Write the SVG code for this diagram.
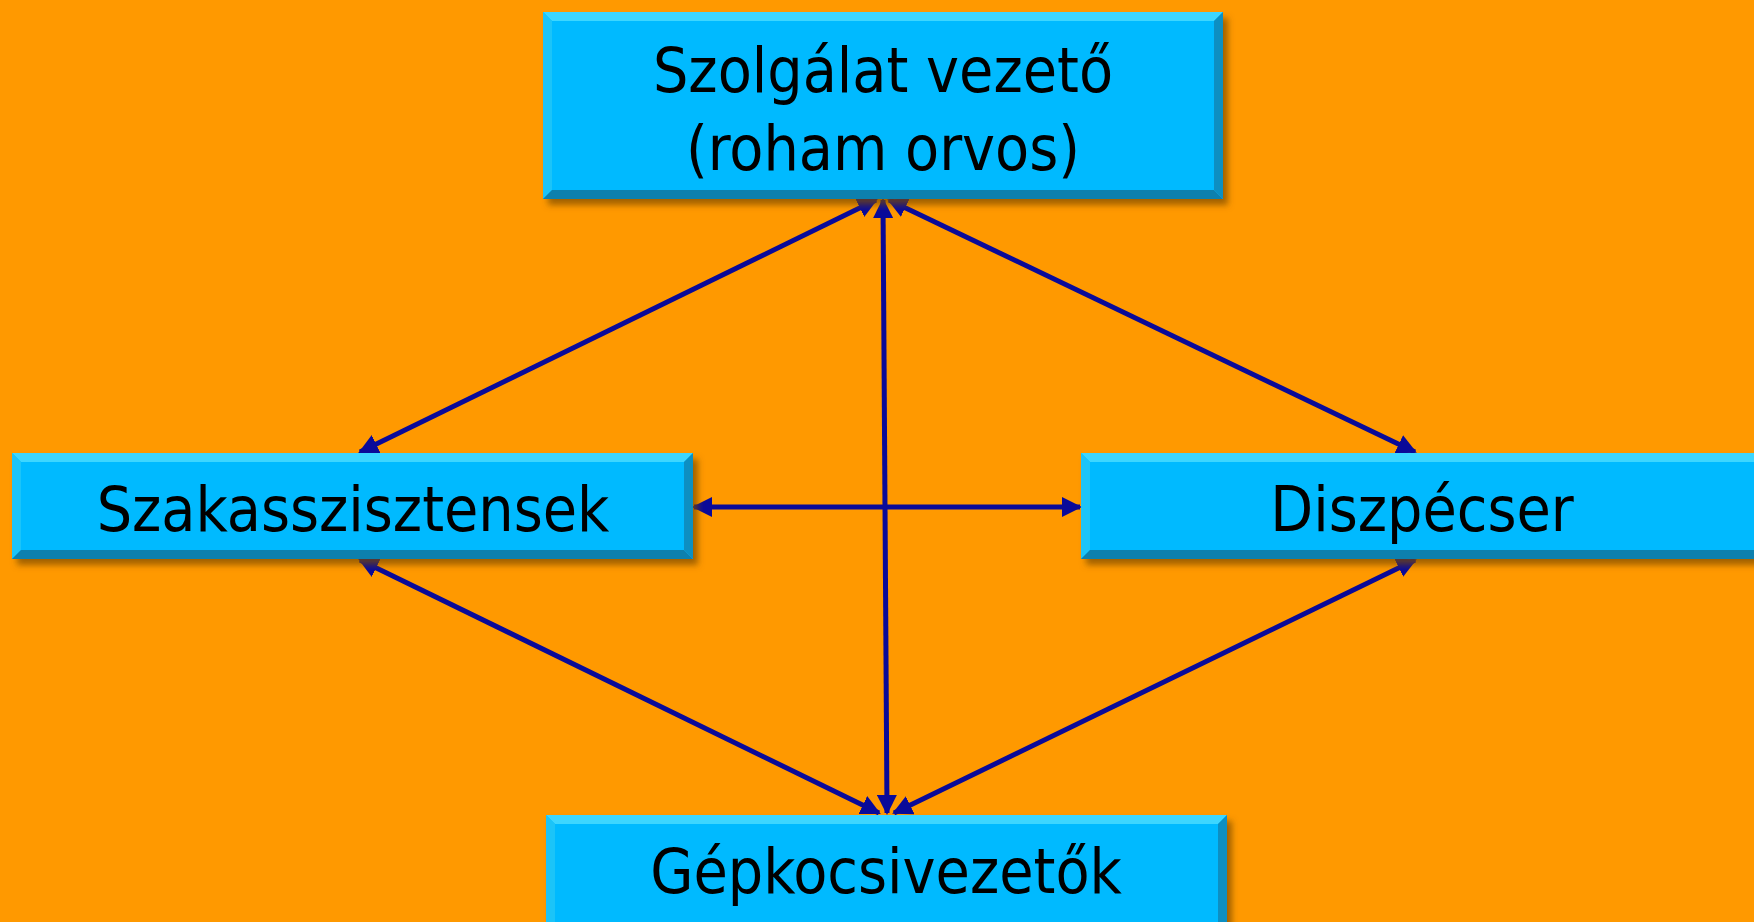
<svg xmlns="http://www.w3.org/2000/svg" width="1754" height="922" viewBox="0 0 1754 922">
<defs>
<style>
.face{fill:#05BAFF}
.bt{fill:#3ED6FF}
.bl{fill:#1CC4F8}
.bb{fill:#0780AE}
.br{fill:#0A8FC2}
.lbl{font-family:"DejaVu Sans Condensed","DejaVu Sans",sans-serif;font-size:62px;fill:#000;text-anchor:middle}
.conn{stroke:#0A0A99;stroke-width:5;fill:none;marker-start:url(#ah);marker-end:url(#ah)}
</style>
<marker id="ah" viewBox="0 0 10 10" refX="9" refY="5" markerWidth="4" markerHeight="4" orient="auto-start-reverse" markerUnits="strokeWidth">
<path d="M0,0 L10,5 L0,10 z" fill="#0A0A99"/>
</marker>
<filter id="sh" x="-5%" y="-10%" width="115%" height="130%">
<feGaussianBlur in="SourceAlpha" stdDeviation="3"/>
<feOffset dx="5" dy="6" result="b"/>
<feFlood flood-color="#7a4a00" flood-opacity="0.7"/>
<feComposite in2="b" operator="in"/>
<feMerge><feMergeNode/><feMergeNode in="SourceGraphic"/></feMerge>
</filter>
</defs>
<rect width="1754" height="922" fill="#FF9900"/>
<g id="connectors">
<line class="conn" x1="876" y1="200" x2="360" y2="452"/>
<line class="conn" x1="889" y1="200" x2="1415" y2="452"/>
<line class="conn" x1="883" y1="200" x2="887" y2="813"/>
<line class="conn" x1="694" y1="507" x2="1080" y2="507"/>
<line class="conn" x1="360" y1="560" x2="879" y2="813"/>
<line class="conn" x1="1415" y1="560" x2="894" y2="813"/>
</g>
<g id="node-top" filter="url(#sh)">
<rect class="face" x="543" y="12" width="680" height="187"/>
<polygon class="bt" points="543,12 1223,12 1214,21 552,21"/>
<polygon class="bl" points="543,12 552,21 552,190 543,199"/>
<polygon class="bb" points="543,199 552,190 1214,190 1223,199"/>
<polygon class="br" points="1223,12 1223,199 1214,190 1214,21"/>
<text class="lbl" x="883" y="92">Szolgálat vezető</text>
<text class="lbl" x="883" y="170">(roham orvos)</text>
</g>
<g id="node-left" filter="url(#sh)">
<rect class="face" x="12" y="453" width="681" height="106"/>
<polygon class="bt" points="12,453 693,453 684,462 21,462"/>
<polygon class="bl" points="12,453 21,462 21,550 12,559"/>
<polygon class="bb" points="12,559 21,550 684,550 693,559"/>
<polygon class="br" points="693,453 693,559 684,550 684,462"/>
<text class="lbl" x="353" y="531">Szakasszisztensek</text>
</g>
<g id="node-right" filter="url(#sh)">
<rect class="face" x="1081" y="453" width="690" height="106"/>
<polygon class="bt" points="1081,453 1771,453 1762,462 1090,462"/>
<polygon class="bl" points="1081,453 1090,462 1090,550 1081,559"/>
<polygon class="bb" points="1081,559 1090,550 1762,550 1771,559"/>
<text class="lbl" x="1422" y="531">Diszpécser</text>
</g>
<g id="node-bottom" filter="url(#sh)">
<rect class="face" x="546" y="815" width="681" height="120"/>
<polygon class="bt" points="546,815 1227,815 1218,824 555,824"/>
<polygon class="bl" points="546,815 555,824 555,935 546,935"/>
<polygon class="br" points="1227,815 1227,935 1218,935 1218,824"/>
<text class="lbl" x="886" y="893">Gépkocsivezetők</text>
</g>
</svg>
